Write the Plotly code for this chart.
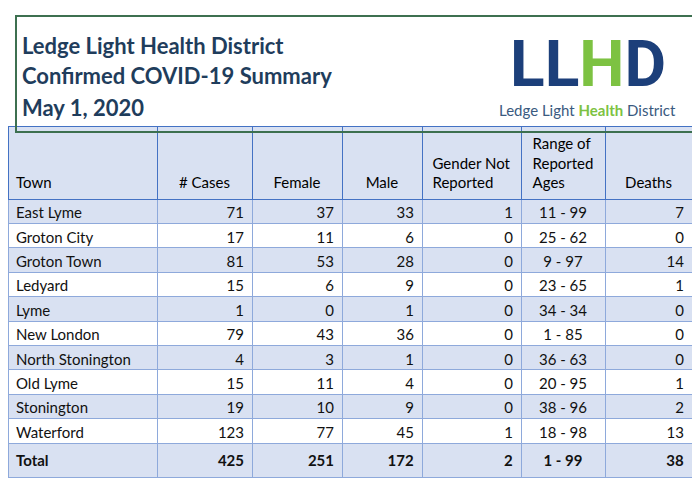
import plotly.graph_objects as go

towns = ["East Lyme","Groton City","Groton Town","Ledyard","Lyme","New London","North Stonington","Old Lyme","Stonington","Waterford","<b>Total</b>"]
cases = [71,17,81,15,1,79,4,15,19,123,425]
female = [37,11,53,6,0,43,3,11,10,77,251]
male = [33,6,28,9,1,36,1,4,9,45,172]
gender_nr = [1,0,0,0,0,0,0,0,0,1,2]
age_range = ["11 - 99","25 - 62","9 - 97","23 - 65","34 - 34","1 - 85","36 - 63","20 - 95","38 - 96","18 - 98","1 - 99"]
deaths = [7,0,14,1,0,0,0,1,2,13,38]
headers = ["&nbsp;<br>&nbsp;<br>Town","&nbsp;<br>&nbsp;<br># Cases","&nbsp;<br>&nbsp;<br>Female","&nbsp;<br>&nbsp;<br>Male",
           "&nbsp;<br>Gender Not<br>Reported","Range of<br>Reported<br>Ages","&nbsp;<br>&nbsp;<br>Deaths"]
title_lines = ["Ledge Light Health District","Confirmed COVID-19 Summary","May 1, 2020"]

W, H = 700, 480
def b(v, i):
    return f"<b>{v}</b>" if i == len(towns)-1 else str(v)
cols = [towns] + [[b(v,i) for i,v in enumerate(c)] for c in (cases,female,male,gender_nr,age_range,deaths)]
BLUE = "#d9e1f2"
fills = [BLUE if i % 2 == 0 else "white" for i in range(len(towns))]
fills[-1] = BLUE

fig = go.Figure(go.Table(
    domain=dict(x=[0, 684/W], y=[0, 1-118/H]),
    columnwidth=[149,95,90,80,99,84,87],
    header=dict(values=headers, height=64, fill_color=BLUE, line_color="#4472c4",
                align=["left","center","center","center","center","center","center"],
                font=dict(family="Lato", size=15, color="black")),
    cells=dict(values=cols, height=24.4, fill_color=[fills]*7, line_color="#8ea9db",
               align=["left","right","right","right","right","center","right"],
               font=dict(family="Lato", size=15, color="#111")),
))
fig.add_shape(type="rect", xref="paper", yref="paper", x0=8/W, x1=692/W, y0=1-124/H, y1=1-8/H,
              line=dict(color="#3d7050", width=2))
for k, t in enumerate(title_lines):
    fig.add_annotation(xref="paper", yref="paper", x=12/W, y=1-(37+31*k)/H, text=f"<b>{t}</b>",
                       showarrow=False, xanchor="left", yanchor="middle",
                       font=dict(family="Lato", size=22, color="#1f3d5c"))
fig.add_annotation(xref="paper", yref="paper", x=580/W, y=1-56/H,
                   text="<b><span style='color:#1c3f7a'>LL</span><span style='color:#7dc242'>H</span><span style='color:#1c3f7a'>D</span></b>",
                   showarrow=False, xanchor="center", yanchor="middle",
                   font=dict(family="Roboto", size=64))
fig.add_annotation(xref="paper", yref="paper", x=579/W, y=1-102/H,
                   text="<span style='color:#3a5a80'>Ledge Light </span><b><span style='color:#7dc242'>Health</span></b><span style='color:#3a5a80'> District</span>",
                   showarrow=False, xanchor="center", yanchor="middle",
                   font=dict(family="Lato", size=15))
fig.update_layout(width=W, height=H, margin=dict(l=0,r=0,t=0,b=0), paper_bgcolor="white")
fig.write_html("out.html")
